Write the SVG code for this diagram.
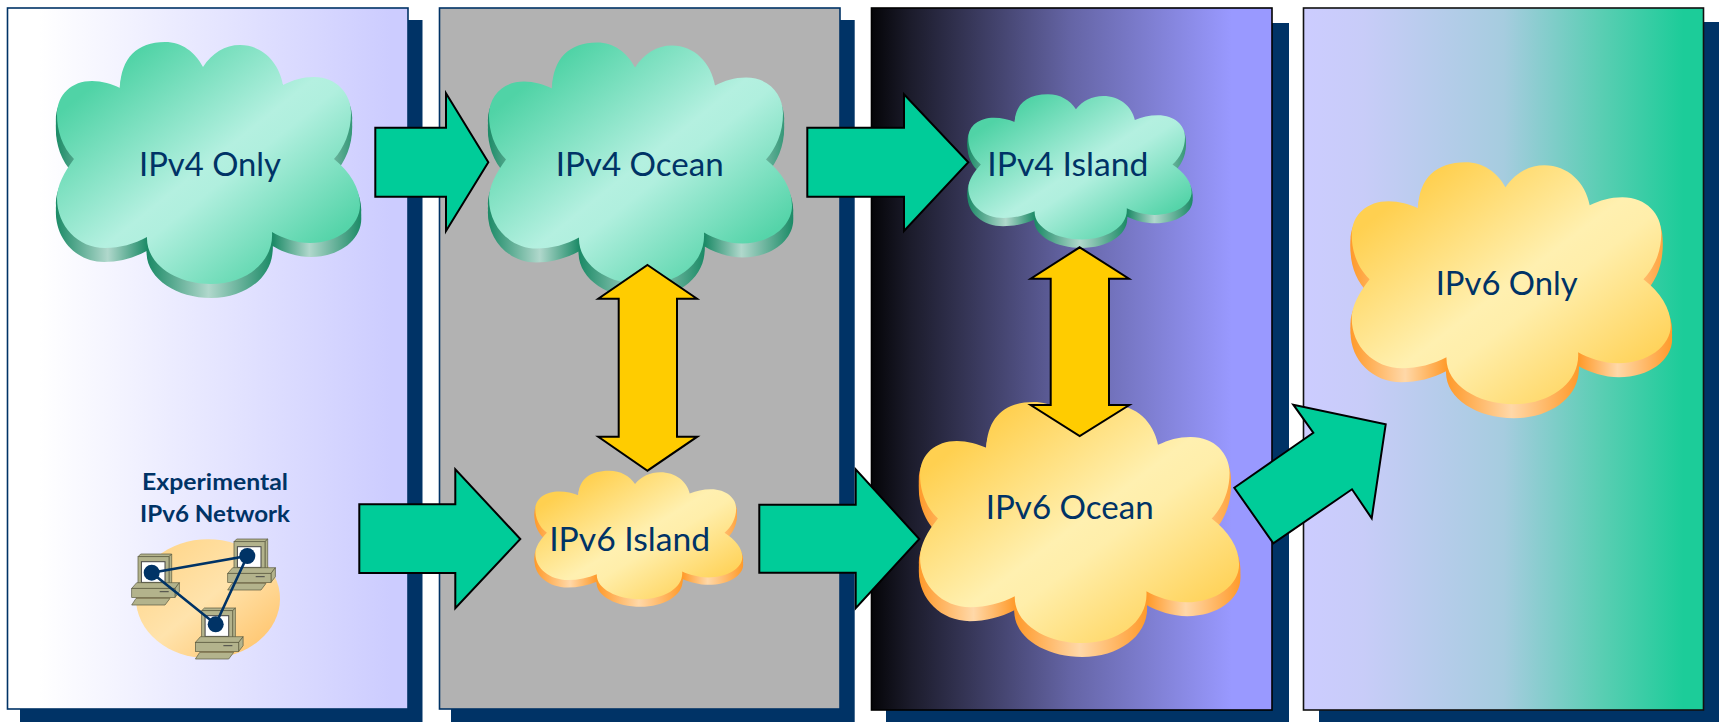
<svg xmlns="http://www.w3.org/2000/svg" width="1719" height="722" viewBox="0 0 1719 722">
<style>
.shadow{fill:#003366}
.panel{stroke-width:1.6}
.lbl{font-family:Lato,"Liberation Sans",sans-serif;font-size:33px;fill:#003366}
.sub{font-family:Lato,"Liberation Sans",sans-serif;font-size:23px;font-weight:700;fill:#003366}
.go{fill:#00CC99;stroke:#000;stroke-width:2;stroke-linejoin:miter}
.both{fill:#FFCC00;stroke:#000;stroke-width:2;stroke-linejoin:miter}
.pc{fill:#B3B38C;stroke:#5a5a40;stroke-width:.7}
.link{stroke:#003366;stroke-width:2.6;fill:none}
.dot{fill:#003366}
</style>
<defs>
<linearGradient id="p1"><stop offset=".08" stop-color="#fff"/><stop offset=".96" stop-color="#CCCCFF"/></linearGradient>
<linearGradient id="p3"><stop offset="0" stop-color="#050508"/><stop offset=".1" stop-color="#1c1c2c"/><stop offset=".5" stop-color="#6565a6"/><stop offset=".9" stop-color="#9999FF"/></linearGradient>
<linearGradient id="p4"><stop offset="0" stop-color="#CCCCFF"/><stop offset=".15" stop-color="#C8CCF8"/><stop offset=".5" stop-color="#A6CCDF"/><stop offset=".75" stop-color="#58CEB2"/><stop offset=".95" stop-color="#1CCC99"/></linearGradient>
<linearGradient id="gf" x1="0" y1="0" x2="1" y2="1"><stop offset=".15" stop-color="#50D3A6"/><stop offset=".5" stop-color="#B4F0E0"/><stop offset=".56" stop-color="#B0EFDE"/><stop offset=".86" stop-color="#55D4A9"/></linearGradient>
<linearGradient id="of" x1="0" y1="0" x2="1" y2="1"><stop offset=".15" stop-color="#FFD050"/><stop offset=".5" stop-color="#FFF0B0"/><stop offset=".58" stop-color="#FFEEAA"/><stop offset=".88" stop-color="#FFD258"/></linearGradient>
<linearGradient id="gs"><stop offset="0" stop-color="#1B8A66"/><stop offset=".17" stop-color="#B0D8CC"/><stop offset=".3" stop-color="#1B8A66"/><stop offset=".5" stop-color="#B0D8CC"/><stop offset=".71" stop-color="#1B8A66"/><stop offset=".83" stop-color="#B0D8CC"/><stop offset="1" stop-color="#1B8A66"/></linearGradient>
<linearGradient id="os"><stop offset="0" stop-color="#FF9A2A"/><stop offset=".17" stop-color="#FFD8A8"/><stop offset=".3" stop-color="#FF9A2A"/><stop offset=".5" stop-color="#FFD8A8"/><stop offset=".71" stop-color="#FF9A2A"/><stop offset=".83" stop-color="#FFD8A8"/><stop offset="1" stop-color="#FF9A2A"/></linearGradient>
<linearGradient id="el" x1="0" y1="0" x2="1" y2="1"><stop offset=".1" stop-color="#FFD68A"/><stop offset=".5" stop-color="#FFE3AC"/><stop offset=".9" stop-color="#FFC670"/></linearGradient>
<path id="c" d="M74,159C62,147 57,130 57,115C57,94 72,81 92,81C102,81 112,84 120,88C121,58 137,42 165,42C182,42 195,52 203,67C212,53 225,45 240,45C262,45 279,62 283,85C293,80 302,77 314,77C337,77 351,94 351,113C351,132 344,148 334,159C350,172 360,188 360,205C360,226 338,243 310,243C296,243 282,238 272,232C274,262 246,284 211,284C176,284 146,264 147,237C134,244 120,248 105,248C78,248 57,226 57,198C57,186 64,172 74,159Z"/>
<g id="cg"><use href="#c" transform="translate(-1.6,5) scale(1.008,1)" fill="url(#gs)"/><use href="#c" transform="translate(-1.6,10) scale(1.008,1)" fill="url(#gs)"/><use href="#c" transform="translate(-1.6,14) scale(1.008,1)" fill="url(#gs)"/><use href="#c" fill="url(#gf)"/></g>
<g id="co"><use href="#c" transform="translate(-1.6,5) scale(1.008,1)" fill="url(#os)"/><use href="#c" transform="translate(-1.6,10) scale(1.008,1)" fill="url(#os)"/><use href="#c" transform="translate(-1.6,14) scale(1.008,1)" fill="url(#os)"/><use href="#c" fill="url(#of)"/></g>
<g id="pc">
<polygon class="pc" points="-11,-18.7 20,-18.7 17.3,-16 -13.7,-16"/>
<polygon class="pc" points="17.3,-16 20,-18.7 20,10 17.3,12.3"/>
<rect class="pc" x="-13.7" y="-16" width="31" height="28.3"/>
<rect x="-10.3" y="-11" width="23.6" height="20.7" fill="#fff" stroke="#444" stroke-width="1"/>
<polygon class="pc" points="-15,10 27.7,10 23.3,15.7 -20,15.7"/>
<polygon class="pc" points="23.3,15.7 27.7,10 27.7,19 23.3,24.7"/>
<rect class="pc" x="-20" y="15.7" width="43.3" height="9"/>
<path d="M8,19H17" stroke="#444" stroke-width="1"/>
<polygon class="pc" points="-15.7,25.7 18.3,25.7 13.3,32.3 -20,32.3"/>
</g>
</defs>
<g id="panel-1"><rect class="shadow" x="20" y="20" width="402.5" height="702"/><rect class="panel" x="7.5" y="8" width="400.5" height="701" fill="url(#p1)" stroke="#003366"/></g>
<g id="panel-2"><rect class="shadow" x="451" y="20" width="403.7" height="702"/><rect class="panel" x="439.5" y="8" width="400.5" height="701" fill="#B2B2B2" stroke="#003366"/></g>
<g id="panel-3"><rect class="shadow" x="886" y="23" width="403" height="699"/><rect class="panel" x="871.5" y="8" width="400.5" height="702" fill="url(#p3)" stroke="#000" stroke-width="2"/></g>
<g id="panel-4"><rect class="shadow" x="1319" y="22" width="400" height="700"/><rect class="panel" x="1303.5" y="8" width="400" height="702" fill="url(#p4)" stroke="#111"/></g>
<g id="ipv4-only"><use href="#cg"/><text class="lbl" x="210" y="176" text-anchor="middle" textLength="142" lengthAdjust="spacingAndGlyphs">IPv4 Only</text></g>
<g id="ipv4-ocean"><use href="#cg" transform="translate(432,0.5)"/><text class="lbl" x="639.7" y="176" text-anchor="middle" textLength="168" lengthAdjust="spacingAndGlyphs">IPv4 Ocean</text></g>
<g id="ipv4-island"><use href="#cg" transform="translate(926.3,69.1) scale(.737,.6)"/><text class="lbl" x="1067.8" y="176" text-anchor="middle" textLength="161" lengthAdjust="spacingAndGlyphs">IPv4 Island</text></g>
<g id="ipv6-island"><use href="#co" transform="translate(496.4,448.4) scale(.683,.531)"/><text class="lbl" x="629.7" y="551" text-anchor="middle" textLength="161" lengthAdjust="spacingAndGlyphs">IPv6 Island</text></g>
<g id="ipv6-ocean"><use href="#co" transform="translate(860,360.2) scale(1.053,.996)"/><text class="lbl" x="1069.7" y="518.7" text-anchor="middle" textLength="168" lengthAdjust="spacingAndGlyphs">IPv6 Ocean</text></g>
<g id="ipv6-only"><use href="#co" transform="translate(1291.7,120.3) scale(1.053,1)"/><text class="lbl" x="1506.7" y="295" text-anchor="middle" textLength="142" lengthAdjust="spacingAndGlyphs">IPv6 Only</text></g>
<g id="experimental-ipv6-network">
<ellipse cx="208" cy="598.7" rx="72" ry="59.5" fill="url(#el)"/>
<use href="#pc" transform="translate(151.7,572.7)"/>
<use href="#pc" transform="translate(247.7,557.7)"/>
<use href="#pc" transform="translate(215.4,626.7)"/>
<path class="link" d="M151.7,572.7L247.3,556L215.7,624.3Z"/>
<circle class="dot" cx="151.7" cy="572.7" r="8"/><circle class="dot" cx="247.3" cy="556" r="8"/><circle class="dot" cx="215.7" cy="624.3" r="8"/>
<text class="sub" x="215" y="489.8" text-anchor="middle" textLength="146" lengthAdjust="spacingAndGlyphs">Experimental</text>
<text class="sub" x="215" y="521.8" text-anchor="middle" textLength="150" lengthAdjust="spacingAndGlyphs">IPv6 Network</text>
</g>
<g id="connectors">
<polygon class="go" points="375.3,127.7 446,127.7 446,93.3 488.3,162.3 446,231 446,196.7 375.3,196.7"/>
<polygon class="go" points="807.3,127.7 904,127.7 904,94.3 968.3,162.3 904,231 904,196.7 807.3,196.7"/>
<polygon class="go" points="359.3,504.3 455.3,504.3 455.3,469.3 520.3,539 455.3,608.3 455.3,573 359.3,573"/>
<polygon class="go" points="759.3,504.7 855.7,504.7 855.7,469.3 919.3,539 855.7,608.3 855.7,572.7 759.3,572.7"/>
<polygon class="go" points="1234.3,487.7 1313.3,432.7 1293.3,404.7 1385.7,424.3 1371.7,518.3 1352,489.3 1273.3,543.3"/>
<polygon class="both" points="647.5,265 697,298.7 677,298.7 677,436.7 697.3,436.7 647.5,470.7 598.3,436.7 618.7,436.7 618.7,298.7 598.3,298.7"/>
<polygon class="both" points="1079.7,247.3 1129,278.7 1109,278.7 1109,405 1129.3,405 1079.7,436 1030.7,405 1050.7,405 1050.7,278.7 1030.7,278.7"/>
</g>
</svg>
